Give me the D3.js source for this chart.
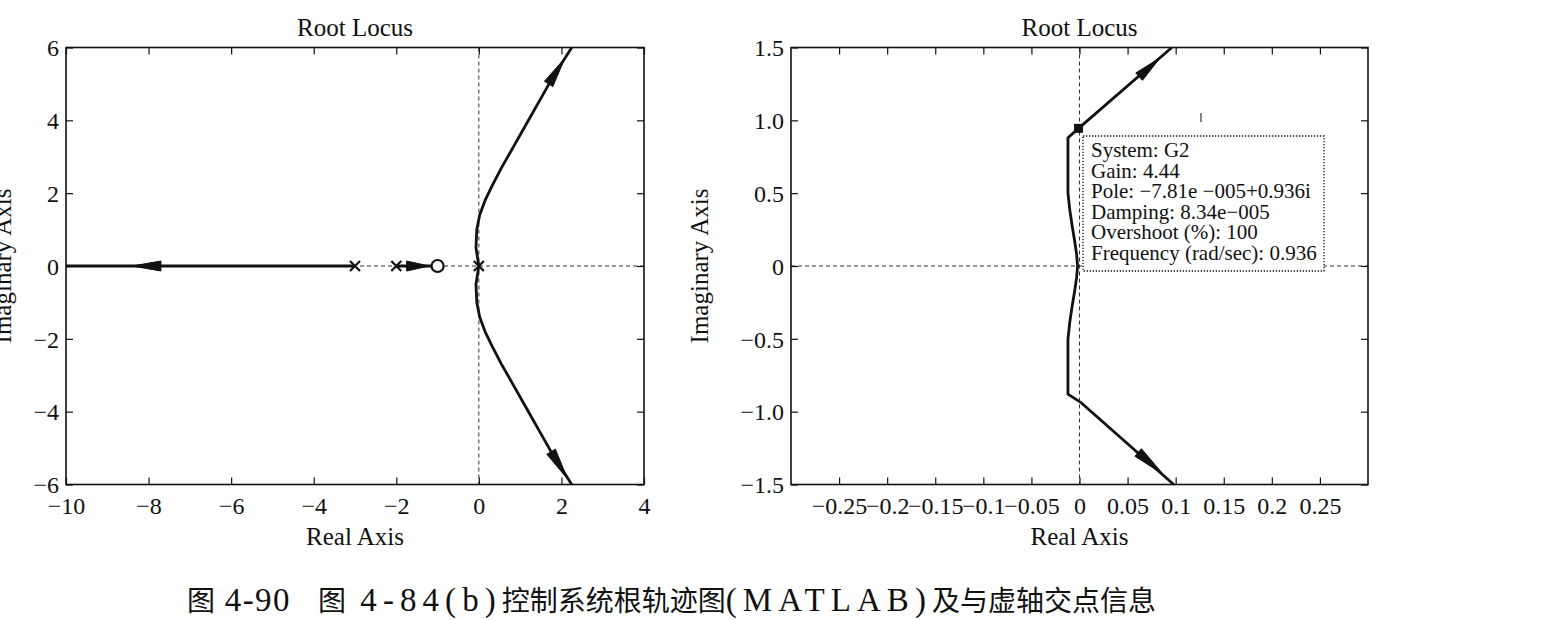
<!DOCTYPE html>
<html>
<head>
<meta charset="utf-8">
<script src="https://cdn.jsdelivr.net/npm/d3@7"></script>
<style>
body{margin:0;background:#fff;}
svg text{font-family:"Liberation Serif","Times New Roman",serif;fill:#111;}
</style>
</head>
<body>
<script>
// ---- left plot data ----
const leftXTicks = [-10,-8,-6,-4,-2,0,2,4]
const leftXLabels = ["\u221210","\u22128","\u22126","\u22124","\u22122","0","2","4"]
const leftYTicks = [-6,-4,-2,0,2,4,6]
const leftYLabels = ["\u22126","\u22124","\u22122","0","2","4","6"]
const leftUpper = [[0,0],[-0.07,0.5],[-0.05,1.0],[0.02,1.4],[0.15,1.8],[0.32,2.2],[0.55,2.7],[0.85,3.3],[1.15,3.9],[1.45,4.5],[1.8,5.2],[2.25,6.0]]
const leftLower = [[0,0],[-0.07,-0.5],[-0.05,-1.0],[0.02,-1.4],[0.15,-1.8],[0.32,-2.2],[0.55,-2.7],[0.85,-3.3],[1.15,-3.9],[1.45,-4.5],[1.8,-5.2],[2.25,-6.0]]
const leftReal1 = [[-10,0],[-3,0]]
const leftReal2 = [[-2,0],[-1,0]]
const leftPoles = [[-3,0],[-2,0],[0,0]]
const leftZeros = [[-1,0]]
const leftArrows = [[[-7.7,0],[-8.4,0]],[[-1.75,0],[-1.2,0]],[[1.69,5.0],[2.08,5.7]],[[1.75,-5.1],[2.15,-5.85]]]

// ---- right plot data ----
const rightXTicks = [-0.25,-0.2,-0.15,-0.1,-0.05,0,0.05,0.1,0.15,0.2,0.25]
const rightXLabels = ["\u22120.25","\u22120.2","\u22120.15","\u22120.1","\u22120.05","0","0.05","0.1","0.15","0.2","0.25"]
const rightYTicks = [-1.5,-1,-0.5,0,0.5,1,1.5]
const rightYLabels = ["\u22121.5","\u22121.0","\u22120.5","0","0.5","1.0","1.5"]
const rightUpper = [[-0.002,0],[-0.003,0.08],[-0.005,0.17],[-0.0075,0.27],[-0.010,0.38],[-0.012,0.5],[-0.012,0.88],[-0.001,0.945],[0.096,1.5]]
const rightLower = [[-0.002,0],[-0.003,-0.08],[-0.005,-0.17],[-0.0075,-0.27],[-0.010,-0.38],[-0.012,-0.5],[-0.012,-0.88],[0.002,-0.94],[0.098,-1.5]]
const rightArrows = [[[0.062,1.3],[0.084,1.43]],[[0.061,-1.28],[0.087,-1.43]]]
const dataTipPoint = [-0.001,0.945]
const dataTipLines = ["System: G2","Gain: 4.44","Pole: \u22127.81e \u2212005+0.936i","Damping: 8.34e\u2212005","Overshoot (%): 100","Frequency (rad/sec): 0.936"]

// caption pieces: [text, isLatin]
const captionNo = [["图",false],[" 4-90",true]]
const captionText = [["图",false],[" 4-84(b)",true],["控制系统根轨迹图",false],["(MATLAB)",true],["及与虚轴交点信息",false]]

const width = 1550
const height = 620

const svg = d3.select('body')
  .append('svg')
  .attr('width',width)
  .attr('height',height)

function drawPanel(cfg){
  const x = d3.scaleLinear().domain(cfg.xDomain).range([cfg.left,cfg.right])
  const y = d3.scaleLinear().domain(cfg.yDomain).range([cfg.bottom,cfg.top])
  const g = svg.append('g')
  const line = d3.line().x(d=>x(d[0])).y(d=>y(d[1]))

  // dashed zero lines
  g.append('line').attr('x1',cfg.left).attr('x2',cfg.right).attr('y1',y(0)).attr('y2',y(0))
    .attr('stroke','#333').attr('stroke-width',1).attr('stroke-dasharray','4,3')
  g.append('line').attr('x1',x(0)).attr('x2',x(0)).attr('y1',cfg.top).attr('y2',cfg.bottom)
    .attr('stroke','#333').attr('stroke-width',1).attr('stroke-dasharray','4,3')

  // axes, ticks inside on all four sides
  const xi = (i)=>cfg.xLabels[cfg.xTicks.indexOf(i)]
  const yi = (i)=>cfg.yLabels[cfg.yTicks.indexOf(i)]
  const bx = g.append('g').attr('transform','translate(0,'+cfg.bottom+')')
    .call(d3.axisBottom(x).tickValues(cfg.xTicks).tickFormat(xi).tickSizeInner(-7).tickSizeOuter(0).tickPadding(12))
  const tx = g.append('g').attr('transform','translate(0,'+cfg.top+')')
    .call(d3.axisTop(x).tickValues(cfg.xTicks).tickFormat('').tickSizeInner(-7).tickSizeOuter(0))
  const ly = g.append('g').attr('transform','translate('+cfg.left+',0)')
    .call(d3.axisLeft(y).tickValues(cfg.yTicks).tickFormat(yi).tickSizeInner(-7).tickSizeOuter(0).tickPadding(7))
  const ry = g.append('g').attr('transform','translate('+cfg.right+',0)')
    .call(d3.axisRight(y).tickValues(cfg.yTicks).tickFormat('').tickSizeInner(-7).tickSizeOuter(0))
  ;[bx,tx,ly,ry].forEach(a=>{
    a.select('.domain').remove()
    a.selectAll('.tick line').attr('stroke','#111').attr('stroke-width',1.2)
    a.selectAll('text').style('font-size','24px').attr('fill','#111')
  })
  ly.selectAll('text').attr('dy','0.34em')

  g.append('rect').attr('x',cfg.left).attr('y',cfg.top)
    .attr('width',cfg.right-cfg.left).attr('height',cfg.bottom-cfg.top)
    .attr('fill','none').attr('stroke','#111').attr('stroke-width',1.6)

  // locus branches
  cfg.branches.forEach(b=>{
    g.append('path').datum(b).attr('d',line)
      .attr('fill','none').attr('stroke','#111').attr('stroke-width',2.8).attr('stroke-linejoin','round')
  })

  // arrows
  cfg.arrows.forEach(a=>{
    const t0 = [x(a[0][0]),y(a[0][1])], t1 = [x(a[1][0]),y(a[1][1])]
    const dx = t1[0]-t0[0], dy = t1[1]-t0[1], L = Math.hypot(dx,dy)
    const nx = -dy/L*5, ny = dx/L*5
    g.append('path')
      .attr('d','M'+t1[0]+','+t1[1]+'L'+(t0[0]+nx)+','+(t0[1]+ny)+'L'+(t0[0]-nx)+','+(t0[1]-ny)+'Z')
      .attr('fill','#111').attr('stroke','#111').attr('stroke-width',1)
  })

  // poles / zeros
  ;(cfg.poles||[]).forEach(p=>{
    const px = x(p[0]), py = y(p[1])
    g.append('path').attr('d','M'+(px-5)+','+(py-5)+'L'+(px+5)+','+(py+5)+'M'+(px-5)+','+(py+5)+'L'+(px+5)+','+(py-5))
      .attr('stroke','#111').attr('stroke-width',2.2)
  })
  ;(cfg.zeros||[]).forEach(p=>{
    g.append('circle').attr('cx',x(p[0])).attr('cy',y(p[1])).attr('r',6)
      .attr('fill','#fff').attr('stroke','#111').attr('stroke-width',2.2)
  })

  const cx = (cfg.left+cfg.right)/2
  g.append('text').attr('x',cx).attr('y',36).attr('text-anchor','middle').style('font-size','25px').text('Root Locus')
  g.append('text').attr('x',cx).attr('y',545).attr('text-anchor','middle').style('font-size','25px').text('Real Axis')
  g.append('text').attr('transform','translate('+cfg.yLabelX+','+((cfg.top+cfg.bottom)/2)+') rotate(-90)')
    .attr('text-anchor','middle').style('font-size','25px').text('Imaginary Axis')
  return {g,x,y}
}

drawPanel({
  xDomain:[-10,4], yDomain:[-6,6], left:66, right:644, top:47.5, bottom:484.5,
  xTicks:leftXTicks, xLabels:leftXLabels, yTicks:leftYTicks, yLabels:leftYLabels,
  branches:[leftUpper,leftLower,leftReal1,leftReal2], arrows:leftArrows,
  poles:leftPoles, zeros:leftZeros, yLabelX:11
})

const rp = drawPanel({
  xDomain:[-0.3,0.3], yDomain:[-1.5,1.5], left:791, right:1368, top:47.5, bottom:484.5,
  xTicks:rightXTicks, xLabels:rightXLabels, yTicks:rightYTicks, yLabels:rightYLabels,
  branches:[rightUpper,rightLower], arrows:rightArrows, yLabelX:708
})

// data tip
rp.g.append('rect').attr('x',1083).attr('y',136).attr('width',241).attr('height',135)
  .attr('fill','#fff').attr('stroke','#111').attr('stroke-width',1.3).attr('stroke-dasharray','1.3,1.7')
rp.g.append('rect').attr('x',rp.x(dataTipPoint[0])-4.5).attr('y',rp.y(dataTipPoint[1])-4.5)
  .attr('width',9).attr('height',9).attr('fill','#111')
rp.g.selectAll('.tip').data(dataTipLines).enter().append('text')
  .attr('class','tip')
  .attr('x',1091)
  .attr('y',(d,i)=>157+i*20.6)
  .style('font-size','21px')
  .text(d=>d)
// small stray mark above the tip box
rp.g.append('line').attr('x1',1201).attr('x2',1201).attr('y1',113).attr('y2',122).attr('stroke','#333').attr('stroke-width',1.2)

// caption: CJK tight, latin pieces spaced out to fill the printed width
function caption(parts,x0,target){
  const t = svg.append('text').attr('x',x0).attr('y',611)
  parts.forEach(p=>{
    t.append('tspan')
      .attr('class',p[1]?'lat':'cjk')
      .style('font-family',p[1]?'"Liberation Serif",serif':'"Noto Sans CJK SC",sans-serif')
      .style('font-size',p[1]?'33px':'28px')
      .text(p[0])
  })
  const nat = t.node().getComputedTextLength()
  const nLat = d3.sum(parts.filter(p=>p[1]),p=>p[0].length)
  const ls = Math.max(0,(target-nat)/nLat)
  t.selectAll('.lat').style('letter-spacing',ls+'px')
}
caption(captionNo,187,104)
caption(captionText,318,838)
</script>
</body>
</html>
